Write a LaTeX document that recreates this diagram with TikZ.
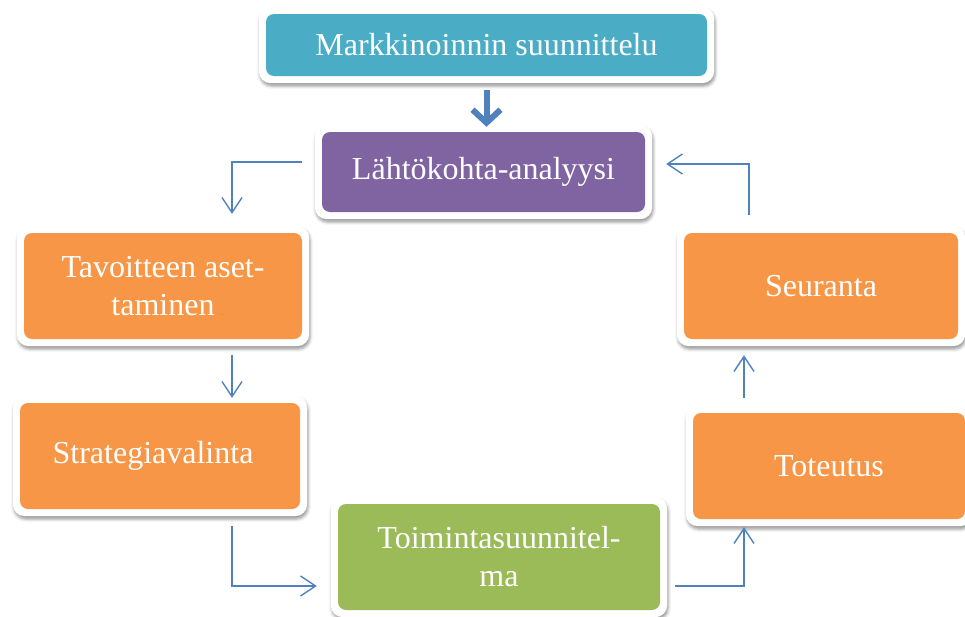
\documentclass[tikz,border=0pt]{standalone}
\usepackage{fontspec}
\setmainfont{Liberation Serif}
\usetikzlibrary{arrows.meta,shadows.blur,backgrounds,calc}
\definecolor{cteal}{RGB}{75,172,198}
\definecolor{cpurple}{RGB}{128,100,162}
\definecolor{corange}{RGB}{247,150,70}
\definecolor{cgreen}{RGB}{155,187,89}
\definecolor{cblue}{RGB}{79,129,189}
\tikzset{
  box/.style={rectangle, rounded corners=8pt, inner sep=0pt, text=white,
    font=\fontsize{32}{38}\selectfont, align=center},
  frame/.style={fill=white, rounded corners=12pt,
    blur shadow={shadow xshift=1pt, shadow yshift=-3pt, shadow blur radius=3pt, shadow opacity=40}},
  conn/.style={draw=cblue, line width=1.4pt, -{Straight Barb[length=15pt,width=20pt]}},
  bigconn/.style={draw=cblue, line width=6pt, -{Straight Barb[length=13pt,width=28pt,line width=6pt]}}
}
\begin{document}
\begin{tikzpicture}[x=1pt,y=-1pt]
\useasboundingbox (0,0) rectangle (965,616);
\node[box, fill=cteal, minimum width=441pt, minimum height=62pt] (mark) at (486.5,45) {Markkinoinnin suunnittelu};
\node[box, fill=cpurple, minimum width=323pt, minimum height=80pt] (lahto) at (483.5,172) {Lähtökohta-analyysi};
\node[box, fill=corange, minimum width=278pt, minimum height=106pt] (tav) at (163,286) {Tavoitteen aset-\\taminen};
\node[box, fill=corange, minimum width=280pt, minimum height=106pt] (strat) at (160,456) {\hspace*{-14pt}Strategiavalinta};
\node[box, fill=cgreen, minimum width=322pt, minimum height=106pt] (toim) at (499,557) {Toimintasuunnitel-\\ma};
\node[box, fill=corange, minimum width=274pt, minimum height=106pt] (seur) at (821,286) {Seuranta};
\node[box, fill=corange, minimum width=272pt, minimum height=106pt] (tot) at (829,466) {Toteutus};
\begin{scope}[on background layer]
\foreach \n in {mark,lahto,tav,strat,toim,seur,tot}
  \path[frame] ([shift={(-7pt,-7pt)}]\n.south west) rectangle ([shift={(7pt,7pt)}]\n.north east);
\end{scope}
% connectors
\draw[bigconn, shorten <=14pt, shorten >=5pt] (mark.south) -- (mark.south |- lahto.north);
\coordinate (c1) at (232,162);
\draw[conn, shorten <=20pt, shorten >=19pt] ([yshift=10pt]lahto.west) -- (c1) -- (c1 |- tav.north);
\coordinate (c2) at (232,339);
\draw[conn, shorten <=16pt, shorten >=5pt] (c2) -- (c2 |- strat.north);
\coordinate (c3) at (232,586);
\draw[conn, shorten <=17pt, shorten >=21pt] (c3 |- strat.south) -- (c3) -- (c3 -| toim.west);
\coordinate (c4) at (744,586);
\draw[conn, shorten <=15pt, shorten >=8pt] (c4 -| toim.east) -- (c4) -- (c4 |- tot.south);
\coordinate (c5) at (744,413);
\draw[conn, shorten <=15pt, shorten >=16pt] (c5) -- (c5 |- seur.south);
\coordinate (c6) at (749,164);
\draw[conn, shorten <=18pt, shorten >=21pt] (c6 |- seur.north) -- (c6) -- (c6 -| lahto.east);
\end{tikzpicture}
\end{document}
